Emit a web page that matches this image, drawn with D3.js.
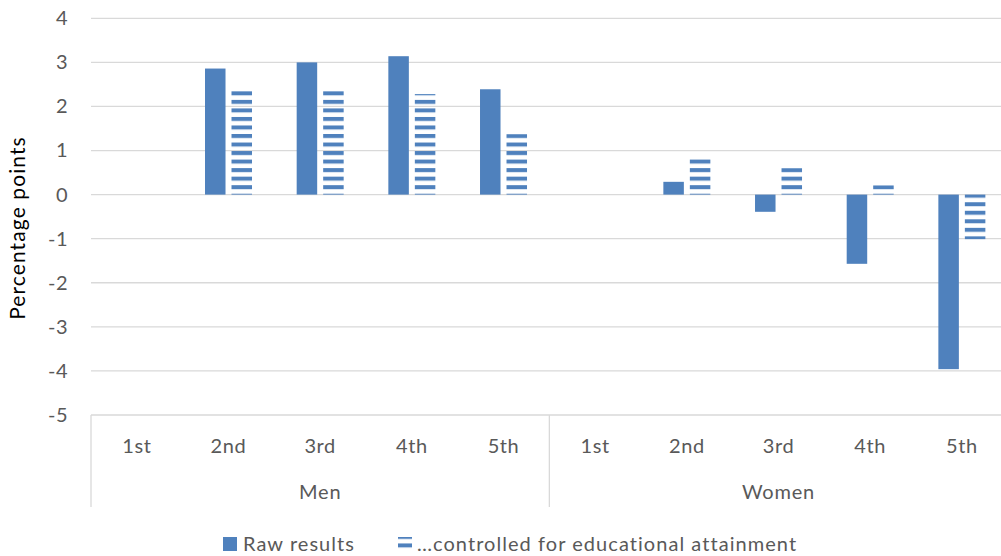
<!DOCTYPE html>
<html>
<head>
<meta charset="utf-8">
<script src="https://cdn.jsdelivr.net/npm/d3@7"></script>
<style>
  html, body { margin: 0; padding: 0; background: #fff; }
  svg { display: block; font-family: Lato, "Open Sans", sans-serif; }
</style>
</head>
<body>
<svg id="chart" width="1001" height="556"></svg>
<script>
// ---- data ----
const groups = ["Men", "Women"];
const quintiles = ["1st", "2nd", "3rd", "4th", "5th"];
const seriesNames = ["Raw results", "\u2026controlled for educational attainment"];
const rawResults = [0, 2.86, 3.00, 3.14, 2.39, 0, 0.29, -0.39, -1.57, -3.96];
const controlled = [0, 2.36, 2.36, 2.28, 1.37, 0, 0.81, 0.60, 0.21, -1.01];
const yTicks = [4, 3, 2, 1, 0, -1, -2, -3, -4, -5];

(function () {
// ---- build table ----
const categories = [];
groups.forEach(g => quintiles.forEach(q => categories.push({ group: g, q: q, id: g + "-" + q })));
const rows = categories.map((c, i) => ({ ...c, values: [rawResults[i], controlled[i]] }));

const svg = d3.select("#chart");
const blue = "#4F81BD";
const grid = "#d9d9d9";
const textCol = "#595959";

const pLeft = 91, pRight = 1007.7, pTop = 18.3, pBottom = 415;
const x0 = d3.scaleBand().domain(categories.map(c => c.id)).range([pLeft, pRight]).padding(0);
const groupInner = 47;
const x1 = d3.scaleBand().domain([0, 1])
  .range([(x0.bandwidth() - groupInner) / 2, (x0.bandwidth() + groupInner) / 2])
  .paddingInner(0.226).paddingOuter(0);
const y = d3.scaleLinear().domain([-5, 4]).range([pBottom, pTop]);

// pattern (horizontal stripes, anchored to chart)
const period = 8.53, stripe = 4;
const defs = svg.append("defs");
const pat = defs.append("pattern")
  .attr("id", "hstripe")
  .attr("patternUnits", "userSpaceOnUse")
  .attr("x", 0)
  .attr("y", (y(0) - 0.9) % period)
  .attr("width", 10).attr("height", period);
pat.append("rect").attr("x", 0).attr("y", 0).attr("width", 10).attr("height", stripe).attr("fill", blue);

// gridlines
svg.append("g").selectAll("line").data(yTicks.filter(t => t !== -5)).join("line")
  .attr("x1", pLeft).attr("x2", pRight)
  .attr("y1", d => y(d)).attr("y2", d => y(d))
  .attr("stroke", grid).attr("stroke-width", 1.3);

// y axis labels
const yAxis = d3.axisLeft(y).tickValues(yTicks).tickSize(0).tickPadding(0).tickFormat(d3.format("d"));
const yg = svg.append("g").attr("transform", `translate(${68},0)`).call(yAxis);
yg.select(".domain").remove();
yg.selectAll("text").attr("fill", textCol).attr("font-size", 20).attr("font-family", "Lato, sans-serif")
  .attr("letter-spacing", 0.5)
  .text(d => d < 0 ? "-" + Math.abs(d) : d);

// y title
svg.append("text")
  .attr("transform", `translate(25,228) rotate(-90)`)
  .attr("text-anchor", "middle")
  .attr("fill", "#000").attr("font-size", 21).attr("letter-spacing", 1.1)
  .text("Percentage points");

// bars
const gBars = svg.append("g");
rows.forEach(r => {
  r.values.forEach((v, k) => {
    if (v === 0) return;
    gBars.append("rect")
      .attr("x", x0(r.id) + x1(k))
      .attr("width", x1.bandwidth())
      .attr("y", y(Math.max(0, v)))
      .attr("height", Math.abs(y(v) - y(0)))
      .attr("fill", k === 0 ? blue : "url(#hstripe)");
  });
});

// category axis
const axG = svg.append("g");
axG.append("line").attr("x1", pLeft).attr("x2", pRight).attr("y1", pBottom).attr("y2", pBottom)
  .attr("stroke", grid).attr("stroke-width", 1.3);
const groupBounds = groups.map(g => {
  const ids = categories.filter(c => c.group === g).map(c => c.id);
  return { g, x1: x0(ids[0]), x2: x0(ids[ids.length - 1]) + x0.bandwidth() };
});
const sepX = [groupBounds[0].x1, ...groupBounds.map(b => b.x2)];
axG.selectAll("line.sep").data(sepX).join("line").attr("class", "sep")
  .attr("x1", d => d).attr("x2", d => d).attr("y1", pBottom).attr("y2", 507)
  .attr("stroke", grid).attr("stroke-width", 1.3);

axG.selectAll("text.q").data(categories).join("text").attr("class", "q")
  .attr("x", d => x0(d.id) + x0.bandwidth() / 2)
  .attr("y", 453)
  .attr("text-anchor", "middle").attr("fill", textCol).attr("font-size", 20).attr("letter-spacing", 0.6)
  .text(d => d.q);
axG.selectAll("text.g").data(groupBounds).join("text").attr("class", "g")
  .attr("x", d => (d.x1 + d.x2) / 2)
  .attr("y", 499)
  .attr("text-anchor", "middle").attr("fill", textCol).attr("font-size", 20).attr("letter-spacing", 0.8)
  .text(d => d.g);

// legend
const leg = svg.append("g");
const legItems = [
  { name: seriesNames[0], fill: blue, sx: 223, tx: 243 },
  { name: seriesNames[1], fill: "url(#hstripe)", sx: 398, tx: 417 }
];
legItems.forEach(it => {
  leg.append("rect").attr("x", it.sx).attr("y", 537).attr("width", 14).attr("height", 14).attr("fill", it.fill);
  leg.append("text").attr("x", it.tx).attr("y", 551).attr("fill", textCol).attr("font-size", 20)
    .attr("letter-spacing", 1.05).text(it.name);
});
})();
</script>
</body>
</html>
